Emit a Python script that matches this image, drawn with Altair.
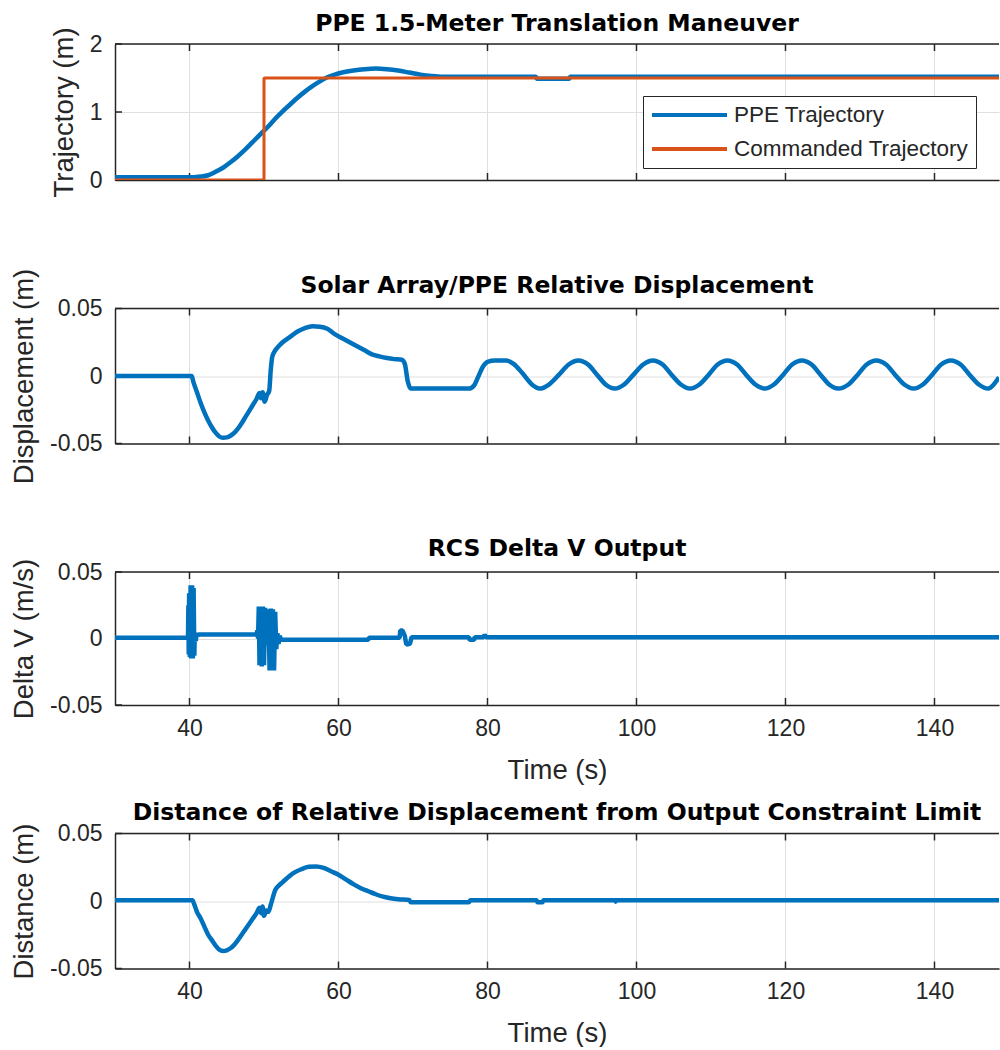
import altair as alt
import pandas as pd

X_MIN, X_MAX = 30, 148.66
X_TICKS = [40, 60, 80, 100, 120, 140]
SERIES = ["PPE Trajectory", "Commanded Trajectory"]

# Panel 1: trajectory
ppe_t = [30, 40.5, 41.5, 42.5, 43.5, 44.5, 45.5, 46.5, 47.5, 48.5, 49.5, 50.5, 51.5, 52.5,
         53.5, 54.5, 55.5, 56.5, 57.5, 58.5, 59.5, 60.5, 62, 63.5, 65, 66.5, 68, 69.5, 71,
         72.5, 74, 86.5, 86.6, 91.0, 91.1, 148.66]
ppe_v = [0.04, 0.04, 0.05, 0.07, 0.12, 0.18, 0.26, 0.35, 0.45, 0.56, 0.67, 0.78, 0.90, 1.01,
         1.11, 1.21, 1.30, 1.38, 1.45, 1.51, 1.55, 1.58, 1.61, 1.63, 1.64, 1.63, 1.61, 1.58, 1.55,
         1.53, 1.52, 1.52, 1.49, 1.49, 1.52, 1.52]
cmd_t = [30, 50, 50, 148.66]
cmd_v = [0, 0, 1.5, 1.5]

# Panel 2: relative displacement
disp_t = [30, 40.3, 40.5, 41, 41.5, 42, 42.5, 43, 43.5, 44, 44.5, 45, 45.5, 46, 46.5, 47, 47.5,
          48, 48.5, 49, 49.4, 49.6, 49.8, 50.1, 50.4, 50.7, 50.9, 51.1, 51.4, 51.8, 52.5, 53.5,
          54.5, 55.5, 56.5, 57.5, 58.5, 59.5, 60.5, 61.5, 62.5, 63.5, 64.5, 65.5, 66.5, 67.5,
          68.5, 68.9, 69.3, 69.7, 77.5, 78.2, 78.8, 79.4, 80.0, 81.0, 82.5, 83.5, 84.7, 86.0,
          87.0, 88.2, 89.6, 90.9, 92.2, 93.5, 94.7, 95.9, 97.1, 98.3, 99.6, 100.9, 102.2, 103.5,
          104.7, 106.0, 107.2, 108.4, 109.7, 110.9, 112.2, 113.5, 114.7, 116.0, 117.2, 118.4,
          119.7, 120.9, 122.2, 123.5, 124.7, 125.9, 127.1, 128.4, 129.7, 130.9, 132.2, 133.5,
          134.7, 136.0, 137.2, 138.4, 139.7, 140.9, 142.2, 143.5, 144.7, 146.0, 147.2, 148.0,
          148.66]
disp_v = [0, 0, -0.004, -0.012, -0.02, -0.027, -0.033, -0.038, -0.042, -0.0448, -0.0458,
          -0.0455, -0.0443, -0.0422, -0.039, -0.035, -0.0305, -0.026, -0.0215, -0.017, -0.0125,
          -0.0165, -0.012, -0.019, -0.014, -0.011, 0.004, 0.014, 0.018, 0.021, 0.025, 0.029,
          0.033, 0.0355, 0.0368, 0.0365, 0.035, 0.031, 0.028, 0.025, 0.022, 0.019, 0.016, 0.0145,
          0.0133, 0.0125, 0.012, 0.009, -0.004, -0.0093, -0.0093, -0.007, 0.0, 0.007, 0.0105,
          0.0115, 0.0115, 0.009, 0.002, -0.0065, -0.0093, -0.0065, 0.001, 0.0085, 0.0115, 0.0085,
          0.001, -0.0065, -0.0093, -0.0065, 0.001, 0.0085, 0.0115, 0.0085, 0.001, -0.0065,
          -0.0093, -0.0065, 0.001, 0.0085, 0.0115, 0.0085, 0.001, -0.0065, -0.0093, -0.0065,
          0.001, 0.0085, 0.0115, 0.0085, 0.001, -0.0065, -0.0093, -0.0065, 0.001, 0.0085, 0.0115,
          0.0085, 0.001, -0.0065, -0.0093, -0.0065, 0.001, 0.0085, 0.0115, 0.0085, 0.001,
          -0.0065, -0.0093, -0.006, -0.001]

# Panel 3: RCS delta V
dv_t = [30, 39.8, 39.85, 39.9, 39.95, 40.05, 40.15, 40.25, 40.35, 40.45, 40.55, 40.65, 40.7,
        40.85, 40.95, 41.1, 41.2, 49.0, 49.1, 49.2, 49.3, 49.4, 49.55, 49.7, 49.85, 50.0, 50.15,
        50.3, 50.45, 50.6, 50.75, 50.9, 51.05, 51.2, 51.35, 51.5, 51.65, 51.8, 51.95, 52.1, 52.3,
        64.0, 64.1, 68.2, 68.3, 68.6, 68.9, 69.1, 69.6, 69.8, 77.5, 77.6, 78.2, 78.3, 79.5, 79.6,
        79.8, 148.66]
dv_v = [0.0005, 0.0005, 0.025, -0.012, 0.034, -0.014, 0.040, -0.015, 0.040, -0.015, 0.038,
        -0.013, 0.002, -0.002, 0.004, 0.002, 0.003, 0.003, 0.006, 0.0, 0.024, -0.02, 0.024,
        -0.021, 0.024, -0.02, 0.023, -0.005, 0.0, 0.022, -0.024, 0.0225, -0.023, 0.022, -0.024,
        0.02, -0.008, 0.004, -0.004, 0.002, -0.001, -0.001, 0.0005, 0.0005, 0.006, 0.006, 0.002,
        -0.0045, -0.004, 0.001, 0.001, -0.001, -0.001, 0.001, 0.001, 0.003, 0.001, 0.001]

# Panel 4: distance from output constraint limit
dist_t = [30, 40.4, 40.6, 41, 41.5, 42, 42.5, 43, 43.5, 44, 44.5, 45, 45.5, 46, 46.5, 47, 47.5,
          48, 48.5, 49, 49.4, 49.6, 49.8, 50.0, 50.3, 50.6, 50.9, 51.5, 52, 52.5, 53, 53.5, 54,
          55, 56, 57, 58, 59, 60, 61, 62, 63, 64, 65, 66, 67, 68, 69.5, 69.7, 77.5, 77.7, 86.6,
          86.7, 87.4, 87.5, 97.1, 97.2, 97.3, 148.66]
dist_v = [0.0005, 0.0005, -0.002, -0.008, -0.013, -0.019, -0.025, -0.029, -0.033, -0.036,
          -0.037, -0.0365, -0.035, -0.0325, -0.029, -0.025, -0.021, -0.017, -0.013, -0.009,
          -0.005, -0.009, -0.004, -0.011, -0.007, -0.008, -0.003, 0.008, 0.0115, 0.014, 0.0165,
          0.0188, 0.0208, 0.0235, 0.0253, 0.0256, 0.0245, 0.022, 0.0195, 0.016, 0.0125, 0.0095,
          0.0072, 0.005, 0.0032, 0.002, 0.0013, 0.0008, -0.001, -0.001, 0.0005, 0.0005, -0.001,
          -0.001, 0.0005, 0.0005, -0.0005, 0.0005, 0.0005]

BLUE = "#0072BD"
ORANGE = "#D95319"
AX = "#262626"
GRID = "#dfdfdf"
FONT = "Liberation Sans"
TITLE_FONT = "DejaVu Sans"
W = 884
TICK_LEN = 7


def panel(title, line_layers, ydomain, yticks, ytitle, height, show_x, title_offset):
    xscale = alt.Scale(domain=[X_MIN, X_MAX], nice=False, zero=False)
    yscale = alt.Scale(domain=ydomain, nice=False, zero=False)
    xt = pd.DataFrame({"tx": X_TICKS})
    yt = pd.DataFrame({"ty": yticks})
    frame = pd.DataFrame({"x0": [X_MIN], "x1": [X_MAX]})

    x_kw = dict(orient="bottom", values=X_TICKS, grid=True, gridColor=GRID, gridWidth=1,
                ticks=False, domain=True, domainColor=AX, domainWidth=1.5,
                labels=show_x, labelFont=FONT, labelFontSize=23, labelColor=AX,
                labelPadding=12, labelFlush=False)
    if show_x:
        x_kw.update(title="Time (s)", titleFont=FONT, titleFontSize=27.5,
                    titleFontWeight="normal", titleColor=AX, titlePadding=16)
    else:
        x_kw.update(title=None)
    x_axis = alt.Axis(**x_kw)
    y_axis = alt.Axis(orient="left", values=yticks, grid=True, gridColor=GRID,
                      gridWidth=1, ticks=False, domain=True, domainColor=AX,
                      domainWidth=1.5, labelFont=FONT, labelFontSize=23,
                      labelColor=AX, labelPadding=13, labelFlush=False,
                      labelExpr="datum.value == 0 ? '0' : (datum.value < 0 ? '-' : '') + format(abs(datum.value), '.2~f')",
                      title=ytitle, titleFont=FONT, titleFontSize=27.5,
                      titleFontWeight="normal", titleColor=AX, titlePadding=11)

    rule = dict(color=AX, strokeWidth=1.5)
    bottom_ticks = alt.Chart(xt).mark_rule(**rule).encode(
        x=alt.X("tx:Q", scale=xscale, axis=x_axis),
        y=alt.value(height - TICK_LEN), y2=alt.value(height))
    top_ticks = alt.Chart(xt).mark_rule(**rule).encode(
        x=alt.X("tx:Q", scale=xscale, axis=x_axis),
        y=alt.value(0), y2=alt.value(TICK_LEN))
    top_border = alt.Chart(frame).mark_rule(**rule).encode(
        x=alt.X("x0:Q", scale=xscale, axis=x_axis), x2="x1:Q", y=alt.value(0))
    left_ticks = alt.Chart(yt).mark_rule(**rule).encode(
        y=alt.Y("ty:Q", scale=yscale, axis=y_axis),
        x=alt.value(0), x2=alt.value(TICK_LEN))

    layers = [bottom_ticks, top_ticks, top_border, left_ticks]
    for df, color, sw, interp, legend in line_layers:
        enc = dict(x=alt.X("t:Q", scale=xscale, axis=x_axis),
                   y=alt.Y("v:Q", scale=yscale, axis=y_axis))
        if legend is not None:
            enc["color"] = alt.Color("series:N",
                                     scale=alt.Scale(domain=SERIES, range=[BLUE, ORANGE]),
                                     legend=legend)
            mark = alt.Chart(df).mark_line(clip=True, strokeWidth=sw, interpolate=interp,
                                           strokeJoin="bevel")
        else:
            mark = alt.Chart(df).mark_line(clip=True, strokeWidth=sw, interpolate=interp,
                                           strokeJoin="bevel", color=color)
        layers.append(mark.encode(**enc))

    return alt.layer(*layers).properties(
        width=W, height=height,
        title=alt.TitleParams(title, font=TITLE_FONT, fontSize=23.5, fontWeight="bold",
                              color="black", anchor="middle", offset=title_offset,
                              frame="group", baseline="alphabetic"))


legend = alt.Legend(title=None, orient="none", legendX=528, legendY=52, direction="vertical",
                    symbolType="M-1,0H6.5", symbolSize=400, symbolStrokeWidth=4,
                    labelFont=FONT, labelFontSize=22.5, labelColor=AX, labelOffset=60,
                    labelLimit=500, fillColor="white", strokeColor=AX, padding=7,
                    rowPadding=10, cornerRadius=0, offset=0)

ppe_df = pd.DataFrame({"t": ppe_t, "v": ppe_v, "series": SERIES[0]})
cmd_df = pd.DataFrame({"t": cmd_t, "v": cmd_v, "series": SERIES[1]})
disp_df = pd.DataFrame({"t": disp_t, "v": disp_v})
dv_df = pd.DataFrame({"t": dv_t, "v": dv_v})
dist_df = pd.DataFrame({"t": dist_t, "v": dist_v})

Y_SMALL = [-0.05, 0, 0.05]

p1 = panel("PPE 1.5-Meter Translation Maneuver",
           [(ppe_df, BLUE, 4.5, "monotone", legend), (cmd_df, ORANGE, 3, "linear", legend)],
           [0, 2], [0, 1, 2], "Trajectory (m)", 136, False, -28)
p2 = panel("Solar Array/PPE Relative Displacement",
           [(disp_df, BLUE, 4.5, "monotone", None)],
           [-0.05, 0.05], Y_SMALL, "Displacement (m)", 135, False, -48)
p3 = panel("RCS Delta V Output",
           [(dv_df, BLUE, 4.5, "linear", None)],
           [-0.05, 0.05], Y_SMALL, "Delta V (m/s)", 133, True, -21)
p4 = panel("Distance of Relative Displacement from Output Constraint Limit",
           [(dist_df, BLUE, 4.5, "monotone", None)],
           [-0.05, 0.05], Y_SMALL, "Distance (m)", 135, True, -21)

chart = alt.vconcat(p1, p2, p3, p4, spacing=128.5, bounds="flush").configure(
    padding={"left": 10, "top": 12, "right": 0, "bottom": 0}, background="white"
).configure_view(stroke=None)

chart.save("out.html", embed_options={"renderer": "svg", "actions": False})
